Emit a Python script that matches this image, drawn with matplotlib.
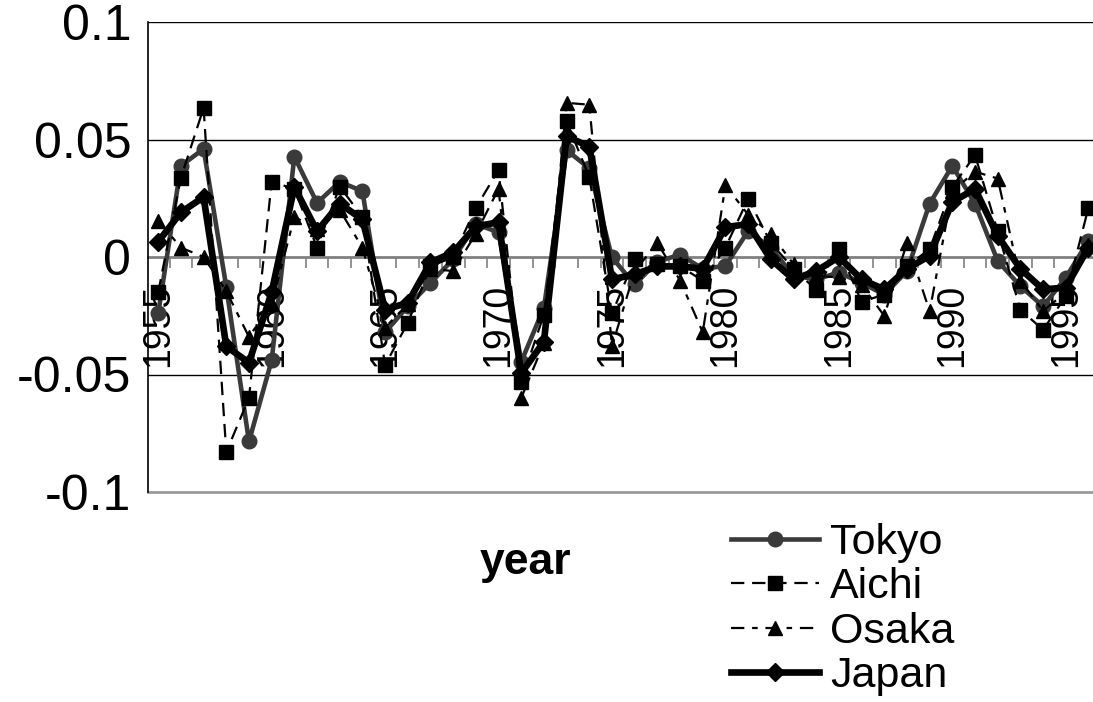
import numpy as np
import matplotlib.pyplot as plt
from matplotlib.ticker import FixedLocator

plt.rcParams['font.family'] = ['Liberation Sans', 'DejaVu Sans']

# Data
years = list(range(1955, 1997))
tokyo = [-0.024, 0.0388, 0.046, -0.0127, -0.0785, -0.044, 0.0427, 0.023, 0.032, 0.028,
         -0.032, -0.021, -0.011, -0.001, 0.014, 0.0105, -0.0446, -0.0216, 0.0455, 0.0377,
         -0.0002, -0.0117, -0.002, 0.001, -0.005, -0.0038, 0.011, 0.004, -0.008, -0.0095,
         -0.0066, -0.011, -0.016, -0.006, 0.0227, 0.0388, 0.0227, -0.0017, -0.0124, -0.021,
         -0.0088, 0.007]
aichi = [-0.015, 0.0337, 0.0634, -0.083, -0.060, 0.032, 0.029, 0.004, 0.030, 0.017,
         -0.046, -0.028, -0.004, 0.000, 0.021, 0.037, -0.053, -0.0245, 0.0577, 0.034,
         -0.024, -0.001, -0.003, -0.004, -0.010, 0.004, 0.0248, 0.006, -0.005, -0.014,
         0.0033, -0.019, -0.016, -0.004, 0.0034, 0.0298, 0.0434, 0.011, -0.0224, -0.031,
         -0.0167, 0.021]
osaka = [0.0155, 0.004, 0.000, -0.0145, -0.034, -0.020, 0.017, 0.012, 0.020, 0.004,
         -0.030, -0.020, -0.005, -0.006, 0.010, 0.029, -0.060, -0.0366, 0.0656, 0.0648,
         -0.038, -0.006, 0.006, -0.010, -0.032, 0.0305, 0.018, 0.0098, -0.003, -0.008,
         -0.0087, -0.012, -0.025, 0.006, -0.023, 0.028, 0.0363, 0.0334, -0.010, -0.023,
         -0.015, 0.005]
japan = [0.0065, 0.019, 0.0255, -0.038, -0.045, -0.015, 0.0298, 0.011, 0.0227, 0.016,
         -0.0224, -0.0195, -0.0023, 0.002, 0.013, 0.0148, -0.0495, -0.036, 0.0513, 0.047,
         -0.0095, -0.0074, -0.004, -0.004, -0.005, 0.0127, 0.014, -0.001, -0.0095, -0.006,
         0.000, -0.0095, -0.0138, -0.005, 0.0005, 0.0234, 0.029, 0.009, -0.005, -0.0138,
         -0.013, 0.004]
label_years = [1955, 1960, 1965, 1970, 1975, 1980, 1985, 1990, 1995]
yticks = [-0.1, -0.05, 0, 0.05, 0.1]
ytick_labels = ['-0.1', '-0.05', '0', '0.05', '0.1']

fig = plt.figure(figsize=(10.93, 7.02), dpi=100)
ax = fig.add_axes([148 / 1093, 1 - 492 / 702, 1 - 148 / 1093, 470 / 702])

# gridlines
for v in [0.1, 0.05, -0.05]:
    ax.axhline(v, color='black', lw=1.0, zorder=1)
ax.axhline(-0.1, color='#999999', lw=2.0, zorder=1, clip_on=False)

ax.plot(years, tokyo, color='#3a3a3a', lw=3.3, marker='o', ms=10.5, label='Tokyo', zorder=3)
ax.plot(years, aichi, color='black', lw=1.6, dashes=(6, 3.5), marker='s', ms=10.5,
        label='Aichi', zorder=3)
ax.plot(years, osaka, color='black', lw=1.6, dashes=(6, 3.5, 2.5, 3.5), marker='^', ms=10.5,
        label='Osaka', zorder=3)
ax.plot(years, japan, color='black', lw=4.8, marker='D', ms=9.5, label='Japan', zorder=4)

ax.set_xlim(1954.55, 1996.2)
ax.set_ylim(-0.1, 0.1)

for s in ['top', 'right']:
    ax.spines[s].set_visible(False)
ax.spines['bottom'].set_position(('data', 0))
ax.spines['bottom'].set_color('#808080')
ax.spines['bottom'].set_linewidth(2)
ax.spines['bottom'].set_zorder(2)
ax.spines['left'].set_linewidth(1.2)

ax.set_xticks(label_years)
ax.set_xticklabels([str(y) for y in label_years], rotation=90, fontsize=27)
ax.xaxis.set_minor_locator(FixedLocator(np.arange(1954.5, 1997, 1.0)))
ax.tick_params(axis='x', which='major', length=0, pad=19)
ax.tick_params(axis='x', which='minor', length=8, width=1.2, color='#808080', direction='out')
for lbl in ax.get_xticklabels():
    lbl.set_va('top')

ax.set_yticks(yticks)
ax.set_yticklabels(ytick_labels, fontsize=36)
ax.tick_params(axis='y', length=0, pad=12)

ax.set_xlabel('year', fontsize=32, fontweight='bold')
ax.xaxis.set_label_coords(0.399, -0.151)
ax.xaxis.label.set_va('center')

fig.legend(loc='upper left', bbox_to_anchor=(731 / 1093, 1 - 523 / 702), frameon=False,
           fontsize=31, handlelength=2.05, handletextpad=0.25, labelspacing=0.1,
           borderpad=0, borderaxespad=0)

fig.savefig('out.png', dpi=100)
